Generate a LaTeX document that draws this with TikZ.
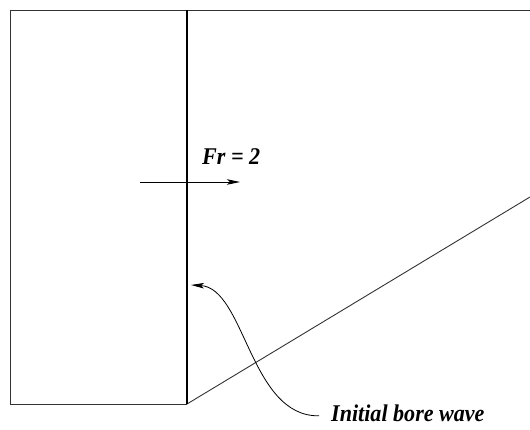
\documentclass[tikz,border=0pt]{standalone}
\usepackage{fontspec}
\setmainfont{Liberation Serif}
\newfontfamily\narrowserif[FakeStretch=0.92]{Liberation Serif}
\usetikzlibrary{arrows.meta, positioning}

\begin{document}
\begin{tikzpicture}[x=1pt, y=-1pt,
    frameline/.style={line width=0.9pt, draw=black!80},
    notetext/.style={font=\narrowserif\fontsize{24}{28}\selectfont\bfseries\itshape, inner sep=0pt},
    pointer/.style={line width=0.8pt, -{Stealth[length=13pt, width=5.5pt, inset=3pt]}}]
    \useasboundingbox (0,0) rectangle (530,430);

    % Channel outline
    \draw[frameline] (530,10) -- (10,10) -- (10,404) -- (187,404);
    % Sloping bed
    \draw[frameline] (187,404) -- (530,197);

    % Initial bore front
    \draw[line width=2.6pt] (187,10) -- (187,404);

    % Flow direction
    \coordinate (flowstart) at (140,182);
    \coordinate (flowend) at (240,182);
    \draw[pointer] (flowstart) -- (flowend);
    \node[notetext, anchor=base west] (froude) at (202,165) {Fr = 2};

    % Bore label and pointer
    \node[notetext, anchor=base west] (bore) at (331,421) {Initial bore wave};
    \coordinate (boretip) at (191,285);
    \draw[pointer] ([xshift=-12pt, yshift=-3pt]bore.west) .. controls (250,417) and (245,288) .. (boretip);
\end{tikzpicture}
\end{document}
